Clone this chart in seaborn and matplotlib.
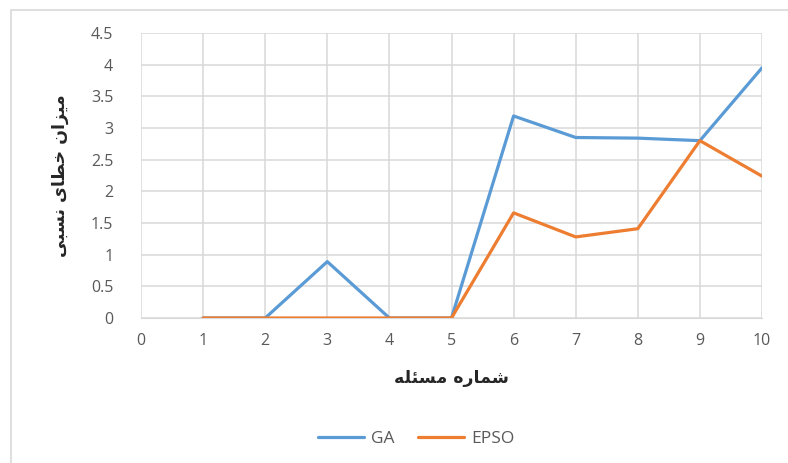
import seaborn as sns
import matplotlib.pyplot as plt
import pandas as pd
from matplotlib.lines import Line2D

problems = [1, 2, 3, 4, 5, 6, 7, 8, 9, 10]
ga = [0, 0, 0.89, 0, 0, 3.19, 2.85, 2.84, 2.80, 3.95]
epso = [0, 0, 0, 0, 0, 1.66, 1.28, 1.41, 2.80, 2.24]
ylabel_fa = "میزان خطای نسبی"
xlabel_fa = "شماره مسئله"

# simple arabic/persian shaping (matplotlib does not do it)
# letter: (isolated, final, initial, medial)
FORMS = {
    'م': ('\uFEE1', '\uFEE2', '\uFEE3', '\uFEE4'),
    'ی': ('\uFBFC', '\uFBFD', '\uFBFE', '\uFBFF'),
    'ز': ('\uFEAF', '\uFEB0', '\uFEAF', '\uFEB0'),
    'ا': ('\uFE8D', '\uFE8E', '\uFE8D', '\uFE8E'),
    'ن': ('\uFEE5', '\uFEE6', '\uFEE7', '\uFEE8'),
    'خ': ('\uFEA5', '\uFEA6', '\uFEA7', '\uFEA8'),
    'ط': ('\uFEC1', '\uFEC2', '\uFEC3', '\uFEC4'),
    'س': ('\uFEB1', '\uFEB2', '\uFEB3', '\uFEB4'),
    'ب': ('\uFE8F', '\uFE90', '\uFE91', '\uFE92'),
    'ش': ('\uFEB5', '\uFEB6', '\uFEB7', '\uFEB8'),
    'ر': ('\uFEAD', '\uFEAE', '\uFEAD', '\uFEAE'),
    'ه': ('\uFEE9', '\uFEEA', '\uFEEB', '\uFEEC'),
    'ئ': ('\uFE89', '\uFE8A', '\uFE8B', '\uFE8C'),
    'ل': ('\uFEDD', '\uFEDE', '\uFEDF', '\uFEE0'),
}
RIGHT_ONLY = set('ازرد')


def shape(text):
    out = []
    for i, ch in enumerate(text):
        if ch not in FORMS:
            out.append(ch)
            continue
        prev = text[i - 1] if i > 0 else ' '
        nxt = text[i + 1] if i + 1 < len(text) else ' '
        join_prev = prev in FORMS and prev not in RIGHT_ONLY
        join_next = nxt in FORMS and ch not in RIGHT_ONLY
        if join_prev and join_next:
            out.append(FORMS[ch][3])
        elif join_prev:
            out.append(FORMS[ch][1])
        elif join_next:
            out.append(FORMS[ch][2])
        else:
            out.append(FORMS[ch][0])
    return ''.join(out)[::-1]


df = pd.DataFrame({'problem': problems + problems,
                   'error': ga + epso,
                   'method': ['GA'] * len(ga) + ['EPSO'] * len(epso)})

sns.set_style('white')
plt.rcParams['font.family'] = ['Open Sans', 'DejaVu Sans']

fig = plt.figure(figsize=(7.88, 4.63), dpi=100)
ax = fig.add_axes([141 / 788, 1 - 318 / 463, 621 / 788, 285 / 463])

sns.lineplot(data=df, x='problem', y='error', hue='method',
             palette={'GA': '#5B9BD5', 'EPSO': '#ED7D31'},
             hue_order=['GA', 'EPSO'], linewidth=2.3, ax=ax, zorder=3)

ax.set_xlim(0, 10)
ax.set_ylim(0, 4.5)
ax.set_xticks(range(0, 11))
ax.set_yticks([i * 0.5 for i in range(10)])
ax.set_yticklabels(['0', '0.5', '1', '1.5', '2', '2.5', '3', '3.5', '4', '4.5'])
ax.grid(True, color='#d9d9d9', linewidth=1.1)
for s in ax.spines.values():
    s.set_visible(False)
ax.spines['bottom'].set_visible(True)
ax.spines['bottom'].set_color('#d9d9d9')
ax.tick_params(axis='both', length=0, labelsize=11.5, labelcolor='#595959')
ax.tick_params(axis='x', pad=11)
ax.tick_params(axis='y', pad=20)

ax.set_xlabel(shape(xlabel_fa), fontsize=12.5, fontweight='bold',
              family='DejaVu Sans', labelpad=14)
ax.set_ylabel(shape(ylabel_fa), fontsize=12.5, fontweight='bold',
              family='DejaVu Sans', labelpad=16)

ax.legend(loc='upper center', bbox_to_anchor=(0.443, -0.34), ncol=2,
          frameon=False, fontsize=12.5, labelcolor='#595959',
          handlelength=2.7, handletextpad=0.4, columnspacing=1.3)

# chart frame
fig.add_artist(Line2D([11 / 788, 11 / 788], [0, 1 - 10 / 463], color='#d9d9d9', lw=1.2))
fig.add_artist(Line2D([11 / 788, 1], [1 - 10 / 463, 1 - 10 / 463], color='#d9d9d9', lw=1.2))

fig.savefig('out.png', dpi=100)
